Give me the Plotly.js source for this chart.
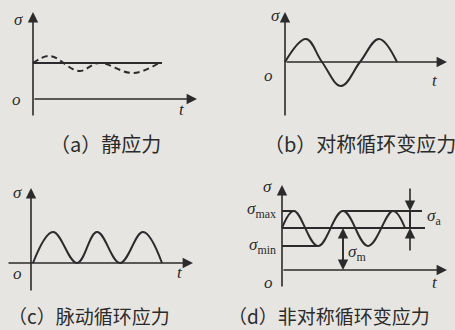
<!DOCTYPE html>
<html><head><meta charset="utf-8">
<script src="https://cdn.plot.ly/plotly-3.0.1.min.js"></script>
<style>html,body{margin:0;padding:0;background:#e7e5e1;}#chart{width:455px;height:330px;}</style>
</head><body><div id="chart"></div>
<script>
// ---- data (t, sigma) ----
// (a) static stress
const staticT = [0, 12.9];
const staticS = [3.6, 3.6];
const staticDashT = [0, 1.7, 4.6, 6.6, 10.0, 12.6];
const staticDashS = [3.6, 4.3, 2.8, 3.6, 2.6, 3.6];
// (b) symmetric cyclic stress
const symT = [0, 2.1, 3.7, 5.6, 7.5, 9.4, 11.2];
const symS = [0, 2.3, 0, -2.4, 0, 2.3, 0];
// (c) pulsating cyclic stress
const pulT = [0.2, 2.2, 4.6, 6.6, 8.9, 11.2, 13.1];
const pulS = [0, 3.1, 0, 3.1, 0, 3.1, 0];
// (d) asymmetric cyclic stress
const asymT = [0, 1.2, 3.6, 6.1, 8.6, 11.1, 12.3];
const asymS = [4.2, 5.9, 2.4, 5.9, 2.4, 5.9, 4.2];
const sigmaMax = 5.9, sigmaMin = 2.4, sigmaM = 4.2;
const maxLineT = [6.0, 14.0], maxStubT = [0, 1.2];
const meanLineT = [0, 14.3];
const minLineT = [0, 3.6];
const sigmaMArrowT = 6.1;
const sigmaAArrowT = 12.8;
const captions = ['（a）静应力', '（b）对称循环变应力', '（c）脉动循环应力', '（d）非对称循环变应力'];

// ---- layout helpers ----
const W = 455, H = 330, S = 10;
const panels = [
  {reg: [0, 227, 0, 130], o: [33, 99]},
  {reg: [228, 455, 0, 130], o: [285, 62]},
  {reg: [0, 227, 160, 300], o: [31, 263]},
  {reg: [228, 455, 160, 300], o: [282, 270]}
];
const layout = {
  width: W, height: H, margin: {l: 0, r: 0, t: 0, b: 0},
  paper_bgcolor: '#e7e5e1', plot_bgcolor: 'rgba(0,0,0,0)',
  showlegend: false, annotations: []
};
panels.forEach((p, i) => {
  const n = i === 0 ? '' : (i + 1);
  const [x0, x1, y0, y1] = p.reg, [ox, oy] = p.o;
  layout['xaxis' + n] = {domain: [x0 / W, x1 / W], range: [(x0 - ox) / S, (x1 - ox) / S], visible: false, fixedrange: true};
  layout['yaxis' + n] = {domain: [1 - y1 / H, 1 - y0 / H], range: [(oy - y1) / S, (oy - y0) / S], visible: false, fixedrange: true};
});
const LC = '#2b2b2b';
function ln(x, y, i, dash) {
  const n = i === 0 ? '' : (i + 1);
  return {x: x, y: y, xaxis: 'x' + n, yaxis: 'y' + n, mode: 'lines', type: 'scatter', hoverinfo: 'skip',
    line: {color: LC, width: 2, dash: dash || 'solid', shape: x.length > 2 ? 'spline' : 'linear', smoothing: 1.1}};
}
function arrow(i, tx, ty, hx, hy) {
  const n = i === 0 ? '' : (i + 1);
  layout.annotations.push({xref: 'x' + n, yref: 'y' + n, axref: 'x' + n, ayref: 'y' + n,
    x: hx, y: hy, ax: tx, ay: ty, text: '', showarrow: true, arrowhead: 2, arrowsize: 1.3,
    arrowwidth: 1.6, arrowcolor: LC});
}
function lab(txt, x, y, size, font, anchor) {
  layout.annotations.push({xref: 'paper', yref: 'paper', x: x / W, y: 1 - y / H, text: txt, showarrow: false,
    xanchor: anchor || 'center', yanchor: 'middle', font: {family: font || 'Liberation Serif, DejaVu Serif, serif', size: size || 17, color: LC}});
}

const traces = [
  ln(staticT, staticS, 0), ln(staticDashT, staticDashS, 0, '6px,4px'),
  ln(symT, symS, 1),
  ln(pulT, pulS, 2),
  ln(asymT, asymS, 3),
  ln(maxLineT, [sigmaMax, sigmaMax], 3), ln(maxStubT, [sigmaMax, sigmaMax], 3),
  ln(meanLineT, [sigmaM, sigmaM], 3), ln(minLineT, [sigmaMin, sigmaMin], 3)
];

// axes with arrows
arrow(0, 0, -1.8, 0, 8.7); arrow(0, 0, 0, 16.4, 0);
arrow(1, 0, -5.5, 0, 5.0); arrow(1, 0, 0, 16.2, 0);
arrow(2, 0, -2.9, 0, 7.5); arrow(2, -2.4, 0, 16.2, 0);
arrow(3, 0, -1.8, 0, 8.5); arrow(3, 0, 0, 16.5, 0);
// sigma_m and sigma_a dimension arrows
arrow(3, sigmaMArrowT, 0.1, sigmaMArrowT, sigmaM);
arrow(3, sigmaMArrowT, sigmaM - 0.1, sigmaMArrowT, 0);
arrow(3, sigmaAArrowT, 8.3, sigmaAArrowT, sigmaMax);
arrow(3, sigmaAArrowT, 1.8, sigmaAArrowT, sigmaM);
traces.push(ln([sigmaAArrowT, sigmaAArrowT], [sigmaM, sigmaMax], 3));

// labels
const sg = '<i>σ</i>';
lab(sg, 18, 19); lab('<i>o</i>', 16, 100); lab('<i>t</i>', 182, 110);
lab(sg, 275, 16); lab('<i>o</i>', 268, 75); lab('<i>t</i>', 435, 80);
lab(sg, 17, 192); lab('<i>o</i>', 17, 273); lab('<i>t</i>', 180, 272);
lab(sg, 267, 186); lab('<i>o</i>', 268, 282); lab('<i>t</i>', 435, 282);
lab(sg + '<sub>max</sub>', 261, 210); lab(sg + '<sub>min</sub>', 262, 246);
lab(sg + '<sub>a</sub>', 434, 217); lab(sg + '<sub>m</sub>', 357, 253);

const cjk = 'Noto Sans CJK SC, sans-serif';
lab(captions[0], 48, 143, 20, cjk, 'left');
lab(captions[1], 262, 144, 20, cjk, 'left');
lab(captions[2], 6, 315, 19, cjk, 'left');
lab(captions[3], 226, 315, 19, cjk, 'left');

Plotly.newPlot('chart', traces, layout, {staticPlot: true, displayModeBar: false});
</script></body></html>
